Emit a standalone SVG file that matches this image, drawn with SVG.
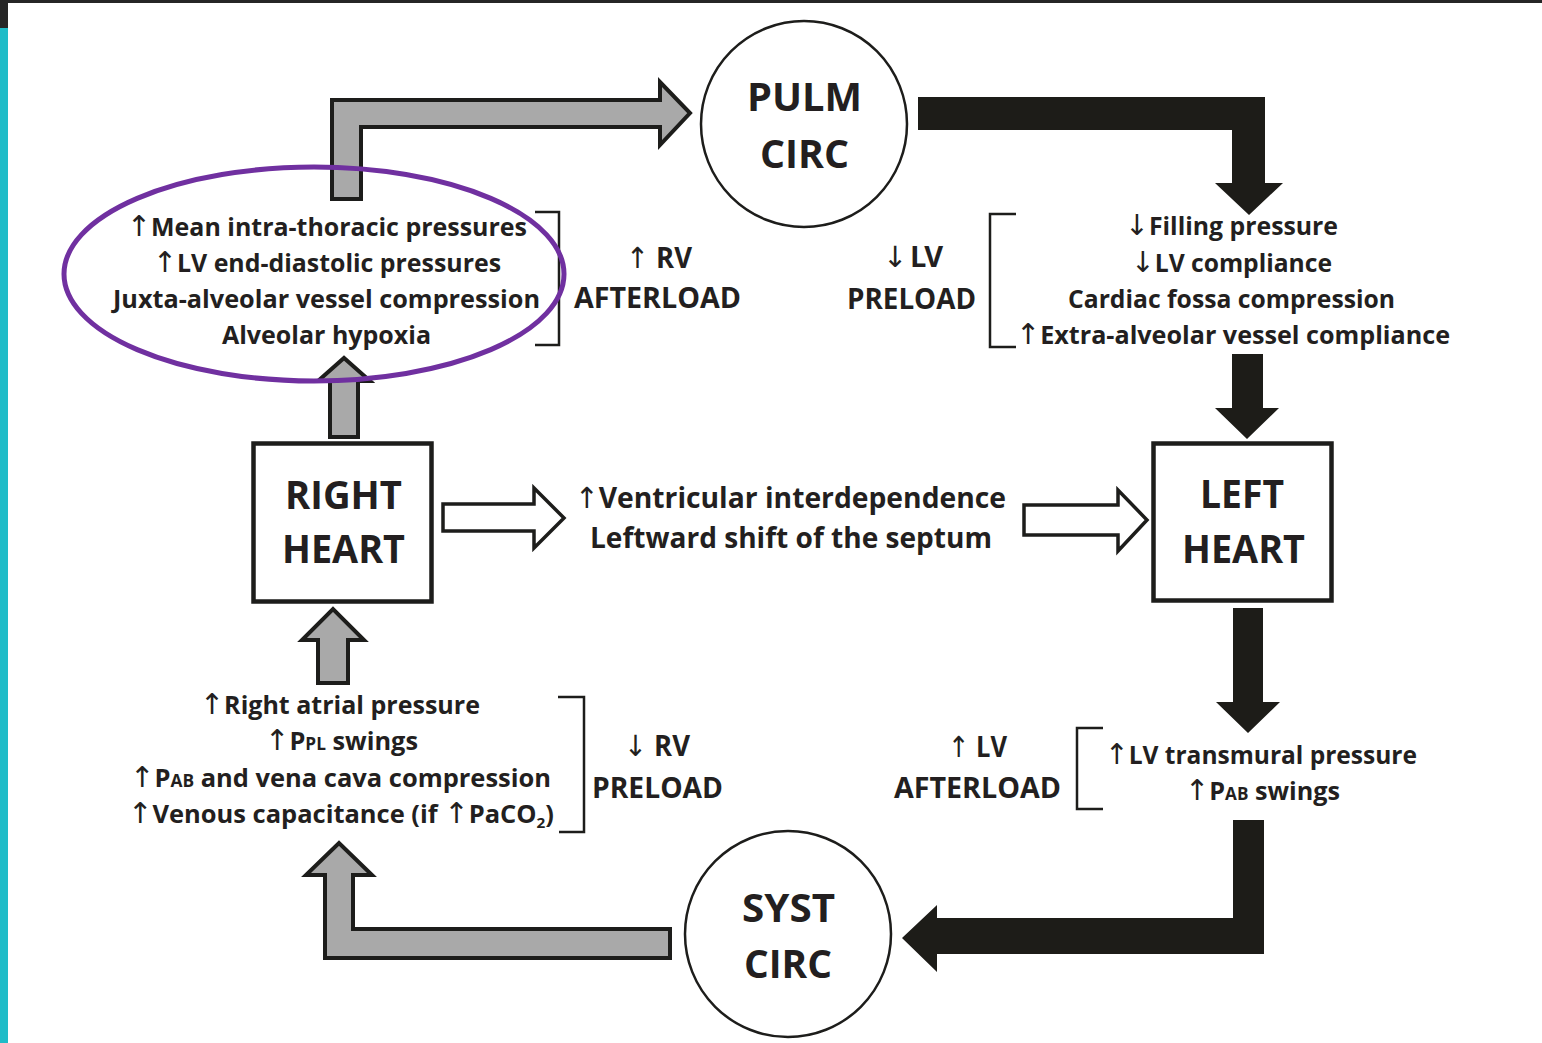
<svg xmlns="http://www.w3.org/2000/svg" width="1542" height="1043" viewBox="0 0 1542 1043">
<style>
  text { font-family: "Open Sans", "Liberation Sans", sans-serif; font-weight: 700; fill: #231f20; text-anchor: middle; }
  .sm { font-size: 25px; }
  .md { font-size: 29px; }
  .lg { font-size: 39px; }
  .ar { font-family: "DejaVu Sans", "Liberation Sans", sans-serif; font-weight: 400; font-size: 1.15em; }
  .md .ar { font-size: 1em; }
  .sc { font-size: 17px; }
  .sub { font-size: 15px; }
  .gray { fill: #a9a9a9; stroke: #1d1d1b; stroke-width: 4; stroke-linejoin: miter; }
  .blk { fill: #1d1c18; stroke: none; }
  .hollow { fill: #ffffff; stroke: #1d1d1b; stroke-width: 3.5; }
  .circ { fill: #ffffff; stroke: #1d1d1b; stroke-width: 2.5; }
  .box { fill: #ffffff; stroke: #1d1d1b; stroke-width: 4.5; }
  .brk { fill: none; stroke: #1d1d1b; stroke-width: 2.5; }
</style>

<!-- frame -->
<rect x="0" y="0" width="1542" height="1043" fill="#ffffff"/>
<rect x="0" y="0" width="1542" height="3" fill="#262626"/>
<rect x="0" y="0" width="8" height="28" fill="#262626"/>
<rect x="0" y="28" width="8" height="1015" fill="#1fbcc8"/>

<g id="connectors">
  <polygon class="gray" points="332,199 332,100 660,100 660,82 690,113 660,145 660,127 361,127 361,199"/>
  <polygon class="blk" points="918,97 1265,97 1265,183 1283,183 1249,215 1215,183 1232,183 1232,130 918,130"/>
  <polygon class="blk" points="1232,354 1263,354 1263,408 1279,408 1247,439 1215,408 1232,408"/>
  <polygon class="blk" points="1233,608 1263,608 1263,702 1280,702 1248,733 1216,702 1233,702"/>
  <polygon class="blk" points="1233,820 1264,820 1264,954 937,954 937,972 902,938 937,905 937,918 1233,918"/>
  <polygon class="gray" points="670,929 353,929 353,875 372,875 339,843 306,875 325,875 325,958 670,958"/>
  <polygon class="gray" points="318,683 318,640 302,640 333,609 364,640 348,640 348,683"/>
  <polygon class="gray" points="330,437 330,381 318,381 344,358 370,381 358,381 358,437"/>
  <polygon class="hollow" points="443,504 534,504 534,488 564,518 534,548 534,531 443,531"/>
  <polygon class="hollow" points="1024,505 1118,505 1118,490 1147,520 1118,551 1118,535 1024,535"/>
</g>

<g id="pulm-circ">
  <circle class="circ" cx="804" cy="124" r="103"/>
  <text class="lg" x="804.5" y="111" textLength="115" lengthAdjust="spacingAndGlyphs">PULM</text>
  <text class="lg" x="804.5" y="168" textLength="89" lengthAdjust="spacingAndGlyphs">CIRC</text>
</g>

<g id="syst-circ">
  <circle class="circ" cx="788" cy="934" r="103"/>
  <text class="lg" x="788.5" y="922" textLength="93" lengthAdjust="spacingAndGlyphs">SYST</text>
  <text class="lg" x="788" y="978" textLength="88" lengthAdjust="spacingAndGlyphs">CIRC</text>
</g>

<g id="right-heart">
  <rect class="box" x="253.5" y="443.5" width="178" height="158"/>
  <text class="lg" x="343.5" y="509" textLength="117" lengthAdjust="spacingAndGlyphs">RIGHT</text>
  <text class="lg" x="343.5" y="563" textLength="123" lengthAdjust="spacingAndGlyphs">HEART</text>
</g>

<g id="left-heart">
  <rect class="box" x="1153.5" y="443.5" width="178" height="157"/>
  <text class="lg" x="1242" y="508" textLength="84" lengthAdjust="spacingAndGlyphs">LEFT</text>
  <text class="lg" x="1243.5" y="563" textLength="123" lengthAdjust="spacingAndGlyphs">HEART</text>
</g>

<g id="rv-afterload-causes">
  <text class="sm" x="327" y="236" textLength="400" lengthAdjust="spacingAndGlyphs"><tspan class="ar">↑</tspan>Mean intra-thoracic pressures</text>
  <text class="sm" x="327" y="272" textLength="348" lengthAdjust="spacingAndGlyphs"><tspan class="ar">↑</tspan>LV end-diastolic pressures</text>
  <text class="sm" x="326.5" y="308" textLength="427" lengthAdjust="spacingAndGlyphs">Juxta-alveolar vessel compression</text>
  <text class="sm" x="326.5" y="344" textLength="209" lengthAdjust="spacingAndGlyphs">Alveolar hypoxia</text>
  <path class="brk" d="M535,212 H559 V345 H535"/>
</g>

<g id="rv-afterload">
  <text class="md" x="659" y="268" textLength="66" lengthAdjust="spacingAndGlyphs"><tspan class="ar">↑</tspan> RV</text>
  <text class="md" x="657.5" y="308" textLength="167" lengthAdjust="spacingAndGlyphs">AFTERLOAD</text>
</g>

<g id="lv-preload">
  <text class="md" x="913" y="267" textLength="60"><tspan class="ar">↓</tspan> LV</text>
  <text class="md" x="911.5" y="309" textLength="129" lengthAdjust="spacingAndGlyphs">PRELOAD</text>
</g>

<g id="lv-preload-causes">
  <path class="brk" d="M1016,214 H990 V347 H1016"/>
  <text class="sm" x="1231.5" y="235" textLength="213" lengthAdjust="spacingAndGlyphs"><tspan class="ar">↓</tspan>Filling pressure</text>
  <text class="sm" x="1231.5" y="272" textLength="201" lengthAdjust="spacingAndGlyphs"><tspan class="ar">↓</tspan>LV compliance</text>
  <text class="sm" x="1231.5" y="308" textLength="327" lengthAdjust="spacingAndGlyphs">Cardiac fossa compression</text>
  <text class="sm" x="1233" y="344" textLength="434" lengthAdjust="spacingAndGlyphs"><tspan class="ar">↑</tspan>Extra-alveolar vessel compliance</text>
</g>

<g id="interdependence">
  <text class="md" x="790.5" y="508" textLength="431" lengthAdjust="spacingAndGlyphs"><tspan class="ar">↑</tspan>Ventricular interdependence</text>
  <text class="md" x="791" y="548" textLength="402" lengthAdjust="spacingAndGlyphs">Leftward shift of the septum</text>
</g>

<g id="rv-preload-causes">
  <text class="sm" x="340" y="714" textLength="280" lengthAdjust="spacingAndGlyphs"><tspan class="ar">↑</tspan>Right atrial pressure</text>
  <text class="sm" x="341.5" y="750" textLength="153" lengthAdjust="spacingAndGlyphs"><tspan class="ar">↑</tspan>P<tspan class="sc">PL</tspan> swings</text>
  <text class="sm" x="340.5" y="787" textLength="421" lengthAdjust="spacingAndGlyphs"><tspan class="ar">↑</tspan>P<tspan class="sc">AB</tspan> and vena cava compression</text>
  <text class="sm" x="341" y="823" textLength="426" lengthAdjust="spacingAndGlyphs"><tspan class="ar">↑</tspan>Venous capacitance (if <tspan class="ar">↑</tspan>PaCO<tspan class="sub" dy="5">2</tspan><tspan dy="-5">)</tspan></text>
  <path class="brk" d="M558,697 H584 V832 H559"/>
</g>

<g id="rv-preload">
  <text class="md" x="657" y="756" textLength="66" lengthAdjust="spacingAndGlyphs"><tspan class="ar">↓</tspan> RV</text>
  <text class="md" x="657.5" y="798" textLength="131" lengthAdjust="spacingAndGlyphs">PRELOAD</text>
</g>

<g id="lv-afterload">
  <text class="md" x="977.5" y="757" textLength="59" lengthAdjust="spacingAndGlyphs"><tspan class="ar">↑</tspan> LV</text>
  <text class="md" x="977.5" y="798" textLength="167" lengthAdjust="spacingAndGlyphs">AFTERLOAD</text>
</g>

<g id="lv-afterload-causes">
  <path class="brk" d="M1103,728 H1077 V809 H1103"/>
  <text class="sm" x="1261" y="764" textLength="312" lengthAdjust="spacingAndGlyphs"><tspan class="ar">↑</tspan>LV transmural pressure</text>
  <text class="sm" x="1262.5" y="800" textLength="155" lengthAdjust="spacingAndGlyphs"><tspan class="ar">↑</tspan>P<tspan class="sc">AB</tspan> swings</text>
</g>

<g id="highlight">
  <ellipse cx="314" cy="274" rx="250" ry="107" fill="none" stroke="#7030a0" stroke-width="5"/>
</g>
</svg>
